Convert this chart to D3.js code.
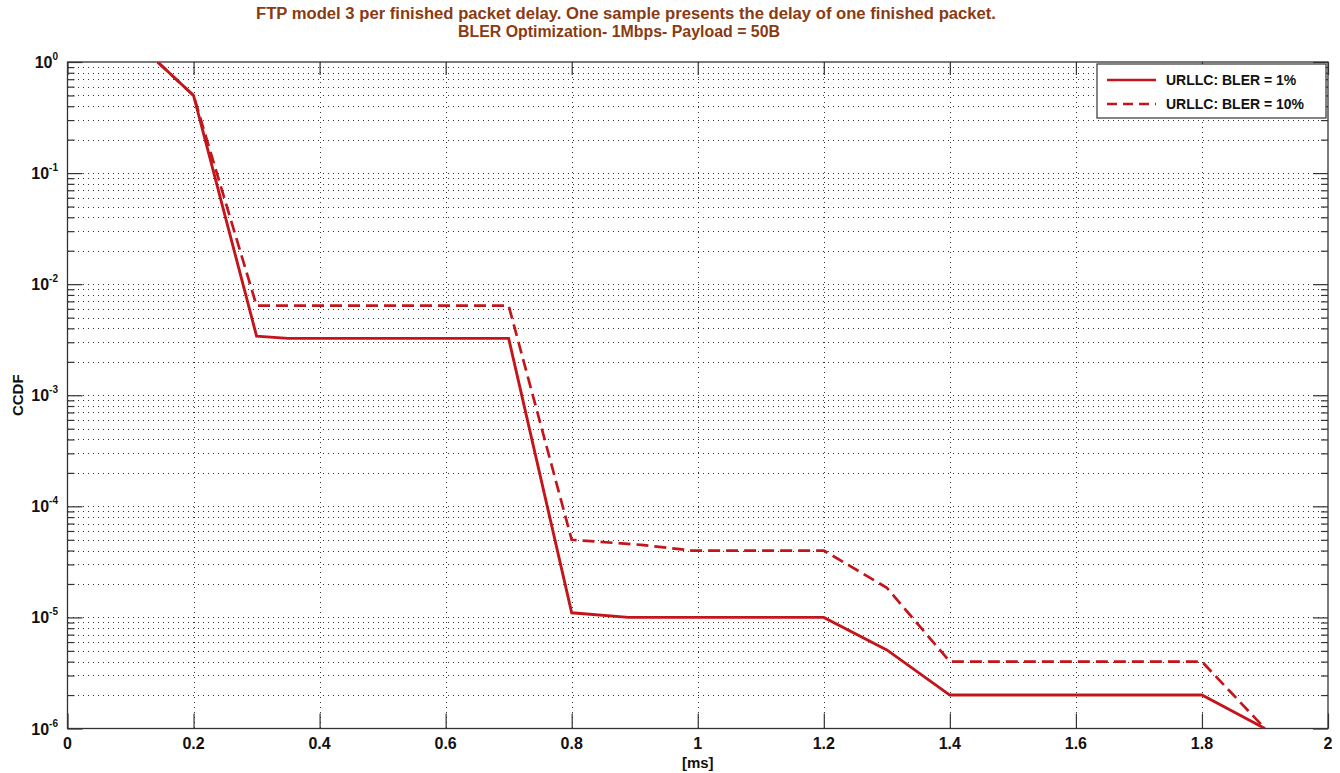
<!DOCTYPE html>
<html>
<head>
    <meta charset="utf-8">
    <style>
        body { margin: 0; background: #fff; }
        svg { display: block; }
        .title { font-family: "Liberation Sans Narrow", "Arial Narrow", "Liberation Sans", sans-serif; font-weight: bold; font-size: 16px; fill: #8a3b12; }
        .tick-label { font-family: "Liberation Sans", Arial, sans-serif; font-weight: bold; font-size: 16px; fill: #111; }
        .axis-label { font-family: "Liberation Sans", Arial, sans-serif; font-weight: bold; font-size: 15px; fill: #111; }
        .legend-text { font-family: "Liberation Sans", Arial, sans-serif; font-weight: bold; font-size: 14px; fill: #111; }
    </style>
</head>
<body>
<svg width="1340" height="773"></svg>

<script src="https://d3js.org/d3.v7.min.js"></script>
<script>
    // series
    let bler1X = [0.143, 0.2, 0.3, 0.35, 0.7, 0.8, 0.89, 1.2, 1.3, 1.4, 1.8, 1.9]
    let bler1Y = [1, 0.5, 3.4e-3, 3.25e-3, 3.25e-3, 1.1e-5, 1e-5, 1e-5, 5.1e-6, 2e-6, 2e-6, 1e-6]

    let bler10X = [0.143, 0.2, 0.3, 0.7, 0.8, 0.91, 0.99, 1.2, 1.3, 1.4, 1.8, 1.9]
    let bler10Y = [1, 0.5, 6.4e-3, 6.4e-3, 5e-5, 4.5e-5, 4e-5, 4e-5, 1.85e-5, 4e-6, 4e-6, 1e-6]

    let xTicks = [0, 0.2, 0.4, 0.6, 0.8, 1, 1.2, 1.4, 1.6, 1.8, 2]
    let yDecades = [0, -1, -2, -3, -4, -5, -6]
    let legendNames = ["URLLC: BLER = 1%", "URLLC: BLER = 10%"]

    let mLeft = 67.5, mRight = 1328, mTop = 62, mBottom = 728.5
    let red = "#c3161c"

    let svg = d3.select("svg")

    let x = d3.scaleLinear().domain([0, 2]).range([mLeft, mRight])
    let y = d3.scaleLog().domain([1e-6, 1]).range([mBottom, mTop])

    let majors = yDecades.map(e => Math.pow(10, e))
    let minors = []
    yDecades.slice(0, -1).forEach(e => {
        for (let k = 2; k <= 9; k++) minors.push(k * Math.pow(10, e - 1))
    })

    // grid
    let grid = svg.append("g").style("shape-rendering", "crispEdges")
    grid.selectAll(".hgrid")
        .data(majors.concat(minors).filter(v => v < 1 && v > 1e-6))
        .join("line")
        .attr("x1", mLeft).attr("x2", mRight)
        .attr("y1", d => Math.round(y(d)) + 0.5).attr("y2", d => Math.round(y(d)) + 0.5)
        .style("stroke", "#333")
        .style("stroke-width", 1)
        .style("stroke-dasharray", "1,4")

    grid.selectAll(".vgrid")
        .data(xTicks.slice(1, -1))
        .join("line")
        .attr("x1", d => Math.round(x(d)) + 0.5).attr("x2", d => Math.round(x(d)) + 0.5)
        .attr("y1", mTop).attr("y2", mBottom)
        .style("stroke", "#333")
        .style("stroke-width", 1)
        .style("stroke-dasharray", "1,4")

    // axes (ticks inside, like matlab)
    function styleAxis(g) {
        g.select(".domain").remove()
        g.selectAll(".tick line").style("stroke", "#333").style("stroke-width", 1.2)
        g.selectAll(".tick text").remove()
    }

    svg.append("g").attr("transform", `translate(${mLeft},0)`)
        .call(d3.axisLeft(y).tickValues(majors).tickSize(-15)).call(styleAxis)
    svg.append("g").attr("transform", `translate(${mLeft},0)`)
        .call(d3.axisLeft(y).tickValues(minors).tickSize(-7)).call(styleAxis)
    svg.append("g").attr("transform", `translate(${mRight},0)`)
        .call(d3.axisRight(y).tickValues(majors).tickSize(-15)).call(styleAxis)
    svg.append("g").attr("transform", `translate(${mRight},0)`)
        .call(d3.axisRight(y).tickValues(minors).tickSize(-7)).call(styleAxis)
    svg.append("g").attr("transform", `translate(0,${mBottom})`)
        .call(d3.axisBottom(x).tickValues(xTicks).tickSize(-15)).call(styleAxis)
    svg.append("g").attr("transform", `translate(0,${mTop})`)
        .call(d3.axisTop(x).tickValues(xTicks).tickSize(-13)).call(styleAxis)

    svg.append("rect")
        .attr("x", mLeft).attr("y", mTop)
        .attr("width", mRight - mLeft).attr("height", mBottom - mTop)
        .style("fill", "none").style("stroke", "#333").style("stroke-width", 1.3)

    // tick labels
    svg.selectAll(".xlab")
        .data(xTicks)
        .join("text")
        .attr("class", "tick-label")
        .attr("x", d => x(d))
        .attr("y", mBottom + 20)
        .attr("text-anchor", "middle")
        .text(d => d)

    let ylab = svg.selectAll(".ylab")
        .data(yDecades)
        .join("text")
        .attr("class", "tick-label")
        .attr("x", 58)
        .attr("y", d => y(Math.pow(10, d)) + 6)
        .attr("text-anchor", "end")
        .text("10")
    ylab.append("tspan")
        .attr("dy", -8)
        .style("font-size", "10px")
        .text(d => d)

    svg.append("text")
        .attr("class", "axis-label")
        .attr("x", (mLeft + mRight) / 2)
        .attr("y", 768)
        .attr("text-anchor", "middle")
        .text("[ms]")

    svg.append("text")
        .attr("class", "axis-label")
        .attr("transform", `translate(23,${(mTop + mBottom) / 2}) rotate(-90)`)
        .attr("text-anchor", "middle")
        .text("CCDF")

    // title
    svg.append("text")
        .attr("class", "title")
        .attr("x", 626).attr("y", 19)
        .attr("text-anchor", "middle")
        .attr("textLength", 740)
        .attr("lengthAdjust", "spacingAndGlyphs")
        .text("FTP model 3 per finished packet delay. One sample presents the delay of one finished packet.")
    svg.append("text")
        .attr("class", "title")
        .attr("x", 619).attr("y", 37)
        .attr("text-anchor", "middle")
        .attr("textLength", 322)
        .attr("lengthAdjust", "spacingAndGlyphs")
        .text("BLER Optimization- 1Mbps- Payload = 50B")

    // lines
    let line = d3.line().x(d => x(d[0])).y(d => y(d[1]))

    svg.append("defs").append("clipPath").attr("id", "clip")
        .append("rect").attr("x", mLeft).attr("y", mTop)
        .attr("width", mRight - mLeft).attr("height", mBottom - mTop)

    let plot = svg.append("g").attr("clip-path", "url(#clip)")

    plot.append("path")
        .datum(d3.zip(bler10X, bler10Y))
        .attr("d", line)
        .style("fill", "none")
        .style("stroke", red)
        .style("stroke-width", 2.7)
        .style("stroke-dasharray", "12,6")

    plot.append("path")
        .datum(d3.zip(bler1X, bler1Y))
        .attr("d", line)
        .style("fill", "none")
        .style("stroke", red)
        .style("stroke-width", 2.9)

    // legend
    let lg = svg.append("g")
    lg.append("rect")
        .attr("x", 1097).attr("y", 64)
        .attr("width", 229).attr("height", 54)
        .style("fill", "#fff").style("stroke", "#333").style("stroke-width", 1.2)

    legendNames.forEach((name, i) => {
        let ly = 80 + i * 24
        lg.append("line")
            .attr("x1", 1107).attr("x2", 1156)
            .attr("y1", ly).attr("y2", ly)
            .style("stroke", red)
            .style("stroke-width", 2.7)
            .style("stroke-dasharray", i == 0 ? null : "10,6")
        lg.append("text")
            .attr("class", "legend-text")
            .attr("x", 1166).attr("y", ly + 5)
            .text(name)
    })
</script>
</body>
</html>
